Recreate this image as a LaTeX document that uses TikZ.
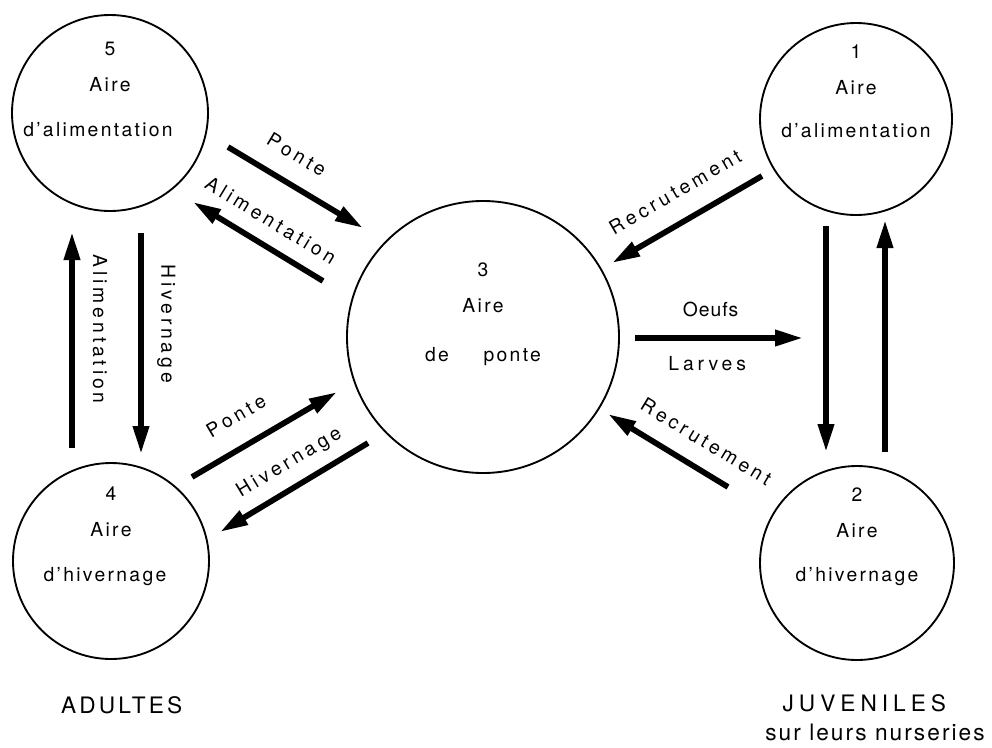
\documentclass[tikz,border=0pt]{standalone}
\usepackage{fontspec}
\setmainfont{TeX Gyre Heros}[LetterSpace=12]
\usetikzlibrary{positioning, arrows.meta}

\newcommand\zonefont{\fontsize{14.5}{27}\selectfont}
\newcommand\tagfont{\fontsize{14.5}{18}\selectfont\addfontfeature{LetterSpace=20}}
\newcommand\groupfont{\fontsize{17}{20}\selectfont\addfontfeature{LetterSpace=14}}

\tikzset{
  zone/.style={circle, draw, line width=1.4pt, inner sep=0pt, outer sep=0pt},
  inside/.style={anchor=north, align=center, inner sep=0pt, font=\zonefont},
  flow/.style={line width=4.3pt, ->},
  tag/.style={inner sep=2pt, font=\tagfont},
  group/.style={inner sep=2pt, font=\groupfont}
}

\begin{document}
\begin{tikzpicture}[x=0.75pt, y=-0.75pt, >={Triangle[length=21pt, width=11.5pt]}]
  \useasboundingbox (0,0) rectangle (992,747);

  % les aires
  \node[zone, minimum size=147pt] (c5) at (110,113) {};
  \node[zone, minimum size=144pt] (c1) at (856,119) {};
  \node[zone, minimum size=204pt] (c3) at (483,337) {};
  \node[zone, minimum size=147pt] (c4) at (111,561) {};
  \node[zone, minimum size=145.5pt] (c2) at (857,563) {};

  \node[inside] (t5) at ([yshift=53.25pt]c5.center) {5\\Aire\\[6.75pt]\hspace*{-18pt}d'alimentation};
  \node[inside] (t1) at ([yshift=55.5pt]c1.center) {1\\Aire\\[5.25pt]d'alimentation};
  \node[inside] (t3) at ([yshift=55.5pt]c3.center) {3\\Aire\\[9.5pt]de\hspace{26pt}ponte};
  \node[inside] (t4) at ([yshift=55.5pt]c4.center) {4\\Aire\\[6.5pt]\hspace*{-9pt}d'hivernage};
  \node[inside] (t2) at ([yshift=56.25pt]c2.center) {2\\Aire\\[6pt]d'hivernage};

  % adultes
  \draw[flow] ([shift={(118,34)}]c5.center) -- ([shift={(-120,-109)}]c3.center)
    node[tag, sloped, pos=.4, above=12pt] (lp5) {Ponte};
  \draw[flow] ([shift={(-160,-56)}]c3.center) -- ([shift={(83,89)}]c5.center)
    node[tag, sloped, pos=.5, above=9pt] (la5) {Alimentation};
  \draw[flow, <-] ([shift={(-38,119)}]c5.center) -- ([shift={(-39,-113)}]c4.center)
    node[tag, sloped, pos=.45, above=11.5pt] (la4) {Alimentation};
  \draw[flow] ([shift={(31,120)}]c5.center) -- ([shift={(30,-107)}]c4.center)
    node[tag, sloped, pos=.41, above=8pt] (lh4) {Hivernage};
  \draw[flow] ([shift={(81,-84)}]c4.center) -- ([shift={(-146,55)}]c3.center)
    node[tag, sloped, pos=.41, above=13.5pt] (lp4) {Ponte};
  \draw[flow] ([shift={(-115,106)}]c3.center) -- ([shift={(109,-29)}]c4.center)
    node[tag, sloped, pos=.45, above=6.5pt] (lh3) {Hivernage};

  % juveniles
  \draw[flow] ([shift={(-94,57)}]c1.center) -- ([shift={(129,-74)}]c3.center)
    node[tag, sloped, pos=.48, above=12.8pt] (lr1) {Recrutement};
  \draw[flow] ([shift={(152,1)}]c3.center) -- ([shift={(-54,-225)}]c2.center)
    node[tag, pos=.45, above=11.5pt, font=\tagfont\addfontfeature{LetterSpace=5}] (loeufs) {Oeufs}
    node[tag, pos=.43, below=10pt] (llarves) {Larves};
  \draw[flow] ([shift={(-30,107)}]c1.center) -- ([shift={(-31,-111)}]c2.center);
  \draw[flow] ([shift={(28,-111)}]c2.center) -- ([shift={(29,101)}]c1.center);
  \draw[flow] ([shift={(-129,-76)}]c2.center) -- ([shift={(125,77)}]c3.center)
    node[tag, sloped, pos=.3, above=11pt] (lr2) {Recrutement};

  \node[group, below=26pt of c4, xshift=8pt] (adultes) {ADULTES};
  \node[group, below=24pt of c2, xshift=5.5pt,
        font=\groupfont\addfontfeature{LetterSpace=22}] (juv) {JUVENILES};
  \node[group, inner sep=0pt, below=6pt of juv, xshift=8pt,
        font=\groupfont\addfontfeature{LetterSpace=9}] (nurs) {sur leurs nurseries};
\end{tikzpicture}
\end{document}
